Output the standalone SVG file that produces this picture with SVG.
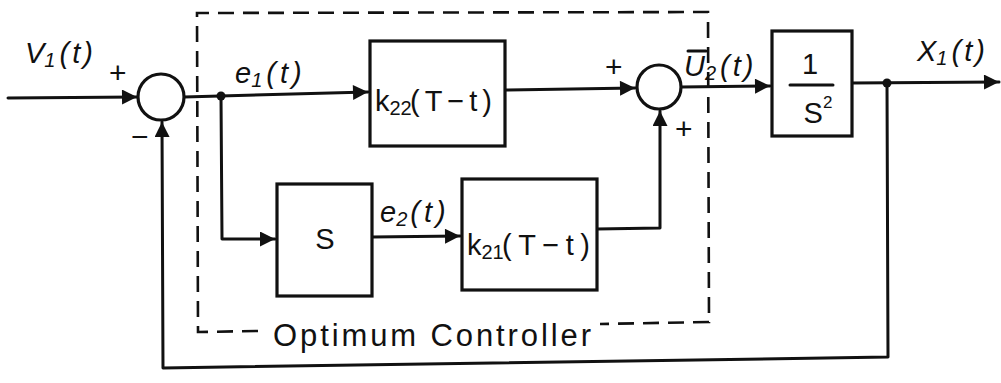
<svg xmlns="http://www.w3.org/2000/svg" width="1001" height="383" viewBox="0 0 1001 383">
<defs>
<style>
.ln{fill:none;stroke:#111;stroke-width:3;stroke-linecap:round;stroke-linejoin:round}
.bx{fill:#fff;stroke:#111;stroke-width:3.2}
.sj{fill:#fff;stroke:#111;stroke-width:3.2}
.dash{fill:none;stroke:#111;stroke-width:2.6;stroke-dasharray:16 9}
.lbl{font-family:"Liberation Sans",Arial,sans-serif;font-style:italic;font-size:29px;fill:#111}
.blk{font-family:"Liberation Sans",Arial,sans-serif;font-size:29px;fill:#111}
.sg{font-family:"Liberation Sans",Arial,sans-serif;font-size:30px;fill:#111}
.cap{font-family:"Liberation Sans",Arial,sans-serif;font-size:31px;fill:#111}
</style>
<marker id="ah" viewBox="0 0 10 10" refX="10" refY="5" markerWidth="7" markerHeight="5" markerUnits="strokeWidth" orient="auto">
<path d="M0,0 L10,5 L0,10 z" fill="#111"/>
</marker>
</defs>

<g id="connectors">
<path class="ln" d="M8,98 L137,97" marker-end="url(#ah)"/>
<path class="ln" d="M184,97 L368,92" marker-end="url(#ah)"/>
<path class="ln" d="M505,90 L635,88" marker-end="url(#ah)"/>
<path class="ln" d="M681,87 L770,86" marker-end="url(#ah)"/>
<path class="ln" d="M852,83 L999,82" marker-end="url(#ah)"/>
<path class="ln" d="M887,83 L888,357 L163,368 L162,122" marker-end="url(#ah)"/>
<path class="ln" d="M221,96 L222,239 L275,239" marker-end="url(#ah)"/>
<path class="ln" d="M372,237 L460,236" marker-end="url(#ah)"/>
<path class="ln" d="M597,229 L660,228 L660,111" marker-end="url(#ah)"/>
<circle cx="221" cy="96" r="4.5" fill="#111"/>
<circle cx="887" cy="83" r="4.5" fill="#111"/>
</g>

<g id="optimum-controller">
<path class="dash" d="M258,331 L198,332 L197,13 L708,12 L709,322 L600,324"/>
<text class="cap" x="273" y="346" textLength="318" lengthAdjust="spacing">Optimum Controller</text>
</g>

<g id="sum1">
<circle class="sj" cx="161" cy="97" r="23"/>
<text class="sg" x="109" y="83">+</text>
<text class="sg" x="131" y="147">−</text>
</g>

<g id="sum2">
<circle class="sj" cx="659" cy="87" r="22"/>
<text class="sg" x="605" y="77">+</text>
<text class="sg" x="675" y="139">+</text>
</g>

<g id="k22">
<rect class="bx" x="370" y="41" width="135" height="105"/>
<text class="blk" x="375" y="111">k<tspan font-size="20" dy="4">22</tspan></text>
<text class="blk" x="410" y="111" textLength="82" lengthAdjust="spacing">(T−t)</text>
</g>

<g id="S">
<rect class="bx" x="277" y="184" width="95" height="112"/>
<text class="blk" x="325" y="249" font-size="35" text-anchor="middle">S</text>
</g>

<g id="k21">
<rect class="bx" x="462" y="179" width="135" height="111"/>
<text class="blk" x="467" y="255">k<tspan font-size="20" dy="4">21</tspan></text>
<text class="blk" x="502" y="255" textLength="88" lengthAdjust="spacing">(T−t)</text>
</g>

<g id="plant">
<rect class="bx" x="772" y="31" width="80" height="105"/>
<line class="ln" x1="790" y1="85" x2="833" y2="85"/>
<text class="blk" x="810" y="74" text-anchor="middle">1</text>
<text class="blk" x="818" y="123" font-size="33" text-anchor="middle">S<tspan font-size="17" dy="-15">2</tspan></text>
</g>

<g id="labels">
<text class="lbl" x="25" y="63">V<tspan font-size="20" dy="4">1</tspan><tspan dy="-4" dx="4" letter-spacing="3">(t)</tspan></text>
<text class="lbl" x="235" y="83">e<tspan font-size="20" dy="4">1</tspan><tspan dy="-4" dx="4" letter-spacing="4">(t)</tspan></text>
<text class="lbl" x="380" y="222">e<tspan font-size="20" dy="4">2</tspan><tspan dy="-4" dx="3" letter-spacing="4">(t)</tspan></text>
<line class="ln" x1="688" y1="51" x2="706" y2="51" stroke-width="2.5"/>
<text class="lbl" x="684" y="76">U<tspan font-size="20" dy="4">2</tspan><tspan dy="-4" dx="4" letter-spacing="3">(t)</tspan></text>
<text class="lbl" x="917" y="61">X<tspan font-size="20" dy="4">1</tspan><tspan dy="-4" dx="4" letter-spacing="3">(t)</tspan></text>
</g>
</svg>
